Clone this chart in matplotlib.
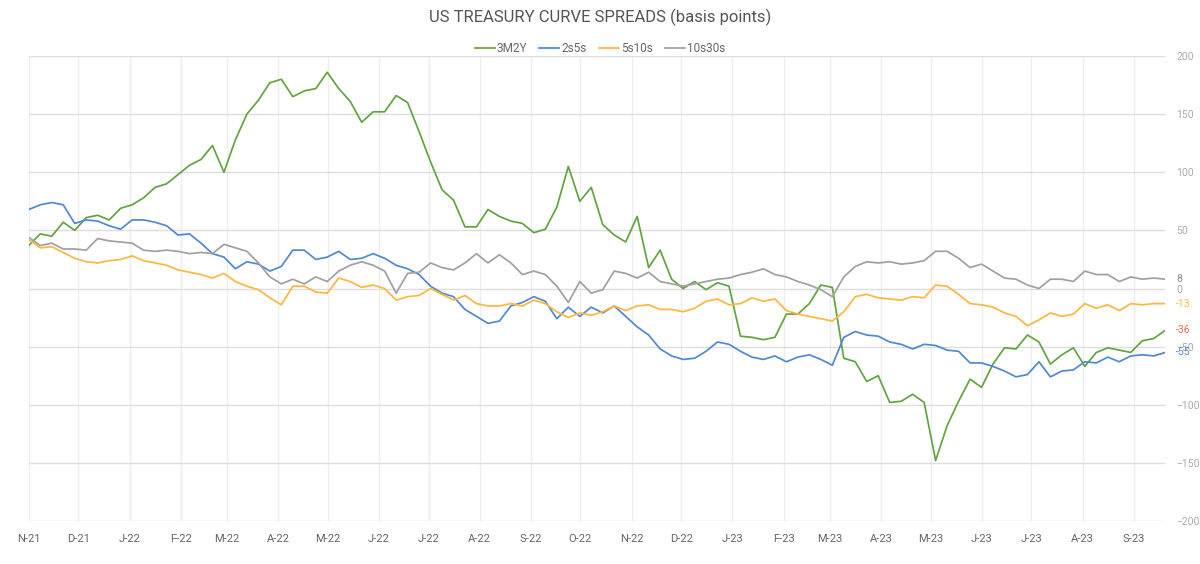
import matplotlib
matplotlib.use('Agg')
import matplotlib.pyplot as plt
import pandas as pd

# Спреды кривой UST, б.п. (примерно по неделям, ноя-21 .. сен-23)
dates = pd.date_range('2021-11-01', '2023-09-20', periods=100)

s_3m2y = [37, 47, 45, 57, 50, 61, 63, 59, 69, 72,
          78, 87, 90, 98, 106, 111, 123, 100, 128, 150,
          162, 177, 180, 165, 170, 172, 186, 172, 161, 143,
          152, 152, 166, 160, 135, 109, 85, 76, 53, 53,
          68, 62, 58, 56, 48, 51, 70, 105, 75, 87,
          55, 46, 40, 62, 18, 33, 8, 0, 6, -1,
          5, 2, -41, -42, -44, -42, -22, -22, -13, 3,
          1, -60, -63, -80, -75, -98, -97, -91, -98, -148,
          -118, -97, -78, -85, -65, -51, -52, -40, -46, -65,
          -57, -51, -67, -55, -51, -53, -55, -45, -43, -36]

s_2s5s = [68, 72, 74, 72, 56, 59, 58, 54, 51, 59,
          59, 57, 54, 46, 47, 39, 30, 27, 17, 23,
          21, 15, 19, 33, 33, 25, 27, 32, 25, 26,
          30, 26, 20, 17, 12, 2, -4, -7, -18, -24,
          -30, -28, -15, -12, -7, -11, -26, -16, -24, -16,
          -21, -15, -24, -33, -40, -52, -58, -61, -60, -54,
          -46, -48, -54, -59, -61, -58, -63, -59, -57, -61,
          -66, -42, -37, -40, -41, -46, -48, -52, -48, -49,
          -53, -54, -64, -64, -67, -71, -76, -74, -63, -76,
          -71, -70, -63, -64, -59, -63, -58, -57, -58, -55]

s_5s10s = [42, 35, 36, 31, 26, 23, 22, 24, 25, 28,
           24, 22, 20, 16, 14, 12, 9, 13, 6, 2,
           -1, -8, -14, 2, 2, -3, -4, 9, 6, 1,
           3, 0, -10, -7, -6, 0, -5, -10, -6, -13,
           -15, -15, -13, -15, -10, -13, -20, -25, -21, -23,
           -20, -15, -19, -15, -14, -18, -18, -20, -17, -11,
           -9, -14, -13, -8, -11, -9, -19, -22, -24, -26,
           -28, -20, -7, -5, -8, -9, -10, -7, -8, 3,
           2, -5, -13, -14, -16, -21, -24, -32, -27, -21,
           -24, -22, -13, -17, -14, -19, -13, -14, -13, -13]

s_10s30s = [44, 37, 39, 34, 34, 33, 43, 41, 40, 39,
            33, 32, 33, 32, 30, 31, 30, 38, 35, 32,
            22, 10, 4, 8, 4, 10, 6, 15, 20, 23,
            20, 15, -4, 13, 14, 22, 18, 16, 22, 30,
            22, 29, 22, 12, 15, 12, 2, -12, 6, -4,
            -1, 15, 13, 9, 14, 6, 4, 2, 4, 6,
            8, 9, 12, 14, 17, 12, 10, 6, 3, -1,
            -7, 10, 19, 23, 22, 23, 21, 22, 24, 32,
            32, 26, 18, 21, 15, 9, 8, 3, 0, 8,
            8, 6, 15, 12, 12, 6, 10, 8, 9, 8]

series = [
    ('3M2Y', s_3m2y, '#62a43f', '#e56f4f'),
    ('2s5s', s_2s5s, '#4f88d3', '#4f88d3'),
    ('5s10s', s_5s10s, '#fdb73e', '#fdb73e'),
    ('10s30s', s_10s30s, '#a0a0a0', '#8a8a8a'),
]

plt.rcParams['font.family'] = ['Roboto', 'DejaVu Sans']

fig = plt.figure(figsize=(12, 5.64), dpi=100)
ax = fig.add_axes([0.024, 0.0762, 0.947, 0.8245])

for name, vals, color, lab_color in series:
    ax.plot(dates, vals, color=color, lw=1.25, label=name)
    # подпись последнего значения справа
    ax.annotate(f'{vals[-1]:.0f}', xy=(1, vals[-1]), xycoords=('axes fraction', 'data'),
                xytext=(8, 0), textcoords='offset points', va='center', ha='left',
                fontsize=7.5, color=lab_color)

ax.set_ylim(-200, 200)
ax.set_xlim(dates[0], dates[-1])
ax.set_yticks(range(-200, 201, 50))
ax.yaxis.tick_right()
ax.tick_params(axis='y', length=0, pad=8, labelsize=7.5, labelcolor='#aaaaaa')
ax.grid(axis='y', color='#dddddd', lw=1)

months = pd.date_range('2021-11-01', '2023-09-01', freq='MS')
ax.set_xticks(months)
ax.set_xticklabels([f"{d.strftime('%b')[0]}-{d.strftime('%y')}" for d in months])
ax.tick_params(axis='x', length=0, pad=9, labelsize=8, labelcolor='#666666')
for d in months:
    ax.axvline(d, color='#eeeeee', lw=1, zorder=0)

for sp in ax.spines.values():
    sp.set_visible(False)

fig.suptitle('US TREASURY CURVE SPREADS (basis points)', y=0.985, fontsize=12, color='#555555')
fig.legend(loc='upper center', bbox_to_anchor=(0.5, 0.945), ncol=4, frameon=False,
           fontsize=8.5, handlelength=1.7, columnspacing=1.0, handletextpad=0.2,
           labelcolor='#666666')

plt.savefig('out.png', dpi=100)
